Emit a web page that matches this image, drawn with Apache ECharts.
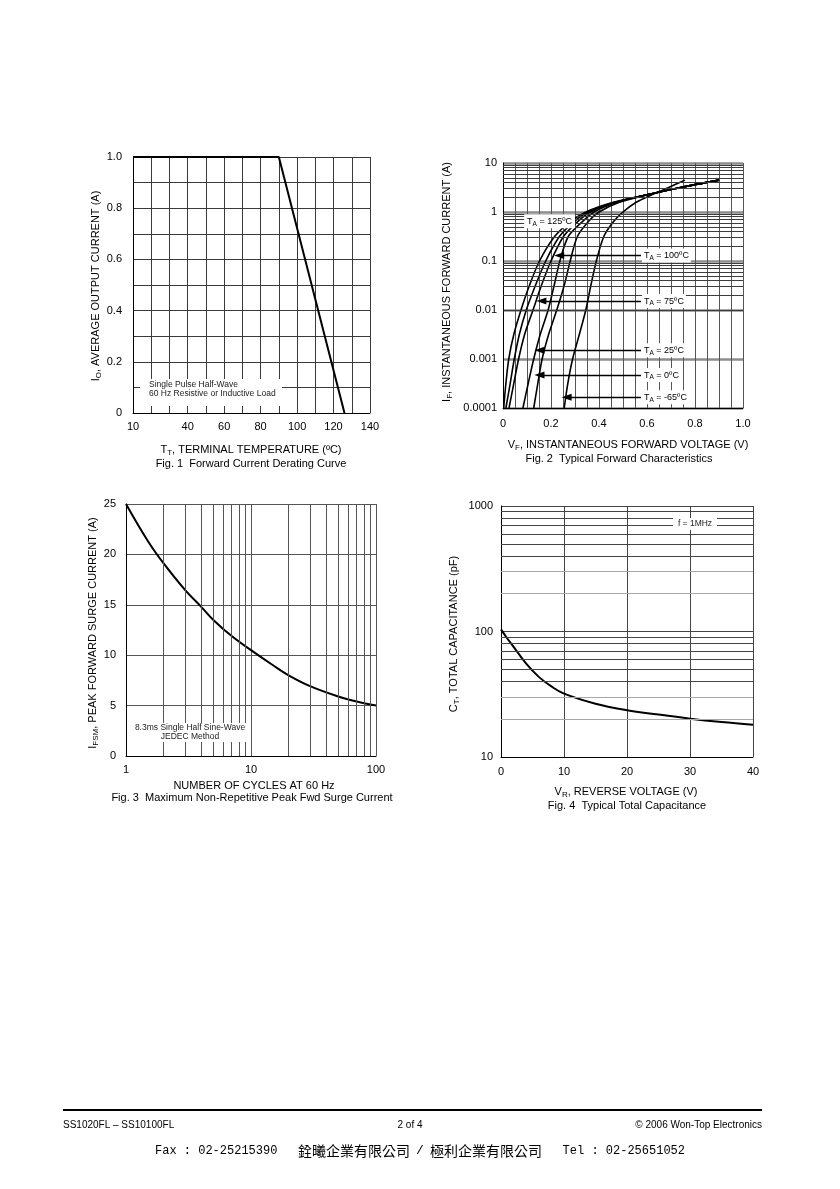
<!DOCTYPE html>
<html><head><meta charset="utf-8">
<script src="https://cdn.jsdelivr.net/npm/echarts@6/dist/echarts.min.js"></script>
<style>html,body{margin:0;padding:0;background:#fff;}#c{width:840px;height:1189px;}</style>
</head><body><div id="c"></div>
<script>
// ---------------- DATA ----------------
// Fig. 1  Forward Current Derating Curve
const fig1Temp = [10, 90, 126];
const fig1Current = [1.0, 1.0, 0.0];
const fig1XLabels = [10, 40, 60, 80, 100, 120, 140];

// Fig. 2  Typical Forward Characteristics  ([VF (V), IF (A)])
const fig2T125 = [[0.003,1e-4],[0.012,3.16e-4],[0.024,1e-3],[0.045,3.16e-3],[0.075,0.01],[0.11,0.0316],[0.152,0.1],[0.215,0.316],[0.28,0.631],[0.345,1],[0.46,1.58],[0.6,2.24],[0.74,3.16],[0.9,4.47]];
const fig2T100 = [[0.012,1e-4],[0.03,3.16e-4],[0.047,1e-3],[0.068,3.16e-3],[0.097,0.01],[0.135,0.0316],[0.178,0.1],[0.235,0.316],[0.295,0.631],[0.355,1],[0.465,1.58],[0.6,2.24],[0.74,3.16],[0.9,4.47]];
const fig2T75 = [[0.025,1e-4],[0.045,3.16e-4],[0.065,1e-3],[0.09,3.16e-3],[0.125,0.01],[0.16,0.0316],[0.2,0.1],[0.252,0.316],[0.31,0.631],[0.365,1],[0.47,1.58],[0.6,2.24],[0.74,3.16],[0.9,4.47]];
const fig2T25 = [[0.083,1e-4],[0.105,3.16e-4],[0.128,1e-3],[0.155,3.16e-3],[0.188,0.01],[0.213,0.0316],[0.237,0.1],[0.272,0.316],[0.33,0.631],[0.38,1],[0.475,1.58],[0.6,2.24],[0.74,3.16],[0.9,4.47]];
const fig2T0 = [[0.128,1e-4],[0.145,3.16e-4],[0.163,1e-3],[0.19,3.16e-3],[0.224,0.01],[0.255,0.0316],[0.28,0.1],[0.31,0.316],[0.355,0.631],[0.4,1],[0.485,1.58],[0.6,2.24],[0.74,3.16],[0.9,4.47]];
const fig2Tm65 = [[0.255,1e-4],[0.27,3.16e-4],[0.29,1e-3],[0.318,3.16e-3],[0.345,0.01],[0.366,0.0316],[0.389,0.1],[0.42,0.316],[0.46,0.631],[0.5,1],[0.555,1.58],[0.62,2.24],[0.69,3.16],[0.758,4.47]];
const fig2Series = [fig2T125, fig2T100, fig2T75, fig2T25, fig2T0, fig2Tm65];
const fig2YLabels = ['0.0001', '0.001', '0.01', '0.1', '1', '10'];
// annotation labels: temperature, arrow tip voltage, current level
const fig2NoteTemps = ['100', '75', '25', '0', '-65'];
const fig2NoteTipV = [0.234, 0.16, 0.152, 0.152, 0.265];
const fig2NoteCurrent = [0.129, 0.0152, 0.0015, 0.00047, 0.000166];

// Fig. 3  Maximum Non-Repetitive Peak Fwd Surge Current
const fig3Cycles = [1, 1.5, 2, 3, 4, 5, 7, 10, 15, 20, 30, 50, 70, 100];
const fig3Current = [25, 21.3, 19.1, 16.4, 14.8, 13.5, 11.9, 10.5, 9.0, 8.0, 6.9, 5.9, 5.4, 5.0];

// Fig. 4  Typical Total Capacitance
const fig4Vr = [0, 1, 2, 4, 6, 8, 10, 15, 20, 25, 30, 35, 40];
const fig4Cap = [104, 88, 75.5, 55.5, 43.5, 36.5, 32, 26.6, 23.6, 21.8, 20.2, 19, 18.1];

// ---------------- CHART ----------------
const FONT = '"Liberation Sans", Arial, Helvetica, sans-serif';
const chart = echarts.init(document.getElementById('c'), null, {renderer: 'canvas'});

const logMinor = (lo, hi) => { const out = []; for (let e = lo; e < hi; e++) for (let d = 2; d <= 9; d++) out.push(d * Math.pow(10, e)); return out; };

function gridLineSeries(xi, key, values, colorFn, width) {
  return {type: 'line', xAxisIndex: xi, yAxisIndex: xi, data: [], silent: true, z: 1,
    markLine: {silent: true, symbol: ['none', 'none'], label: {show: false}, animation: false,
      lineStyle: {width: width, type: 'solid'},
      emphasis: {disabled: true},
      data: values.map(v => ({[key]: v, lineStyle: {color: colorFn(v), width: width, type: 'solid'}}))}};
}

const sub = {fontSize: 8, fontFamily: FONT, color: '#000', padding: [6, 0, 0, 0]};
const main = {fontSize: 11, fontFamily: FONT, color: '#000'};
const richT = {m: main, s: sub};
const richNote = {m: {fontSize: 9, fontFamily: FONT, color: '#000'}, s: {fontSize: 6.5, fontFamily: FONT, color: '#000', padding: [5, 0, 0, 0]}};

function axisBase(gi, extra) {
  return Object.assign({gridIndex: gi,
    axisLine: {show: true, onZero: false, lineStyle: {color: '#000', width: 1}},
    axisTick: {show: false},
    axisLabel: {fontFamily: FONT, fontSize: 11, color: '#000'},
  }, extra);
}

const curveStyle = w => ({color: '#000', width: w});
const lead = v => Math.round(v / Math.pow(10, Math.floor(Math.log10(v) + 1e-9)));

const option = {
  animation: false,
  backgroundColor: '#fff',
  grid: [
    {left: 133, top: 157, width: 237, height: 256},
    {left: 503, top: 163, width: 240, height: 245},
    {left: 126, top: 504, width: 250, height: 252},
    {left: 501, top: 506, width: 252, height: 251}
  ],
  xAxis: [
    axisBase(0, {type: 'value', min: 10, max: 140, interval: 10,
      axisLabel: {fontFamily: FONT, fontSize: 11, color: '#000', margin: 8,
        formatter: v => fig1XLabels.indexOf(Math.round(v)) >= 0 ? String(Math.round(v)) : ''},
      splitLine: {show: true, lineStyle: {color: '#3a3a3a', width: 1}}}),
    axisBase(1, {type: 'value', min: 0, max: 1, interval: 0.05,
      axisLabel: {fontFamily: FONT, fontSize: 11, color: '#000', margin: 10,
        formatter: v => { const r = Math.round(v * 20); if (r % 4) return ''; return r === 0 ? '0' : (r / 20).toFixed(1); }},
      splitLine: {show: true, lineStyle: {color: '#555', width: 1}}}),
    axisBase(2, {type: 'log', logBase: 10, min: 1, max: 100,
      axisLabel: {fontFamily: FONT, fontSize: 11, color: '#000', margin: 8, formatter: v => String(Math.round(v))},
      splitLine: {show: true, lineStyle: {color: '#555', width: 1}}}),
    axisBase(3, {type: 'value', min: 0, max: 40, interval: 10,
      axisLabel: {fontFamily: FONT, fontSize: 11, color: '#000', margin: 9},
      splitLine: {show: true, lineStyle: {color: '#444', width: 1}}})
  ],
  yAxis: [
    axisBase(0, {type: 'value', min: 0, max: 1, interval: 0.1,
      axisLabel: {fontFamily: FONT, fontSize: 11, color: '#000', margin: 11,
        formatter: v => { const r = Math.round(v * 10); if (r % 2) return ''; return r === 0 ? '0' : (r / 10).toFixed(1); }},
      splitLine: {show: true, lineStyle: {color: '#3a3a3a', width: 1}}}),
    axisBase(1, {type: 'log', logBase: 10, min: 1e-4, max: 10,
      axisLabel: {fontFamily: FONT, fontSize: 11, color: '#000', margin: 6,
        formatter: v => fig2YLabels[Math.round(Math.log10(v)) + 4]},
      splitLine: {show: true, lineStyle: {color: '#8c8c8c', width: 2.5}}}),
    axisBase(2, {type: 'value', min: 0, max: 25, interval: 5,
      axisLabel: {fontFamily: FONT, fontSize: 11, color: '#000', margin: 10},
      splitLine: {show: true, lineStyle: {color: '#555', width: 1}}}),
    axisBase(3, {type: 'log', logBase: 10, min: 10, max: 1000,
      axisLabel: {fontFamily: FONT, fontSize: 11, color: '#000', margin: 8, formatter: v => String(Math.round(v))},
      splitLine: {show: true, lineStyle: {color: '#444', width: 1}}})
  ],
  series: [
    // minor grid lines for log axes
    gridLineSeries(1, 'yAxis', logMinor(-4, 1), () => '#3c3c3c', 1),
    gridLineSeries(2, 'xAxis', logMinor(0, 2), () => '#555', 1),
    gridLineSeries(3, 'yAxis', logMinor(1, 3), v => (lead(v) <= 3 ? '#a8a8a8' : '#444'), 1),
    // Fig 1
    {type: 'line', xAxisIndex: 0, yAxisIndex: 0, z: 3, symbol: 'none',
      data: fig1Temp.map((t, i) => [t, fig1Current[i]]), lineStyle: curveStyle(2)},
    // Fig 2 curves
    ...fig2Series.map(d => ({type: 'line', xAxisIndex: 1, yAxisIndex: 1, z: 3, symbol: 'none', smooth: 0.3,
      data: d, lineStyle: curveStyle(1.6)})),
    // Fig 2 annotations
    {type: 'line', xAxisIndex: 1, yAxisIndex: 1, data: [], z: 4, silent: true,
      markLine: {silent: true, animation: false, symbol: ['triangle', 'none'], symbolSize: [7, 10],
        lineStyle: {color: '#000', width: 1.3, type: 'solid'},
        emphasis: {disabled: true},
        label: {show: true, position: 'end', distance: 1, backgroundColor: '#fff', padding: [1, 2, 1, 2], rich: richNote},
        data: fig2NoteTemps.map((t, i) => [
          {coord: [fig2NoteTipV[i], fig2NoteCurrent[i]]},
          {coord: [0.575, fig2NoteCurrent[i]], label: {formatter: '{m|T}{s|A}{m| = ' + t + 'ºC}'}}
        ])},
      markPoint: {silent: true, animation: false, symbol: 'rect', symbolSize: 1, itemStyle: {color: 'rgba(0,0,0,0)'},
        label: {show: true, position: 'inside', backgroundColor: '#fff', padding: [1, 3, 1, 3],
          formatter: '{m|T}{s|A}{m| = 125ºC}', rich: richNote},
        data: [{coord: [0.194, 0.645]}]}},
    // Fig 3
    {type: 'line', xAxisIndex: 2, yAxisIndex: 2, z: 3, symbol: 'none', smooth: 0.4,
      data: fig3Cycles.map((n, i) => [n, fig3Current[i]]), lineStyle: curveStyle(2)},
    // Fig 4
    {type: 'line', xAxisIndex: 3, yAxisIndex: 3, z: 3, symbol: 'none', smooth: 0.4,
      data: fig4Vr.map((v, i) => [v, fig4Cap[i]]), lineStyle: curveStyle(2)}
  ],
  graphic: [
    // Fig 1 texts
    {type: 'text', x: 96, y: 286, rotation: Math.PI / 2, z: 20,
      style: {text: '{m|I}{s|O}{m|, AVERAGE OUTPUT CURRENT (A)}', rich: richT, align: 'center', verticalAlign: 'middle'}},
    {type: 'text', x: 251, y: 450, z: 20,
      style: {text: '{m|T}{s|T}{m|, TERMINAL TEMPERATURE (ºC)}', rich: richT, align: 'center', verticalAlign: 'middle'}},
    {type: 'text', x: 251, y: 464, z: 20,
      style: {text: 'Fig. 1  Forward Current Derating Curve', font: '11px ' + FONT, fill: '#000', align: 'center', verticalAlign: 'middle'}},
    {type: 'rect', shape: {x: 140, y: 379, width: 142, height: 27}, style: {fill: '#fff'}, z: 10},
    {type: 'text', x: 149, y: 385, z: 20,
      style: {text: 'Single Pulse Half-Wave', font: '8.5px ' + FONT, fill: '#222', align: 'left', verticalAlign: 'middle'}},
    {type: 'text', x: 149, y: 394, z: 20,
      style: {text: '60 Hz Resistive or Inductive Load', font: '8.5px ' + FONT, fill: '#222', align: 'left', verticalAlign: 'middle'}},
    // Fig 2 texts
    {type: 'text', x: 447, y: 282, rotation: Math.PI / 2, z: 20,
      style: {text: '{m|I}{s|F}{m|, INSTANTANEOUS FORWARD CURRENT (A)}', rich: richT, align: 'center', verticalAlign: 'middle'}},
    {type: 'text', x: 628, y: 445, z: 20,
      style: {text: '{m|V}{s|F}{m|, INSTANTANEOUS FORWARD VOLTAGE (V)}', rich: richT, align: 'center', verticalAlign: 'middle'}},
    {type: 'text', x: 619, y: 459, z: 20,
      style: {text: 'Fig. 2  Typical Forward Characteristics', font: '11px ' + FONT, fill: '#000', align: 'center', verticalAlign: 'middle'}},
    // Fig 3 texts
    {type: 'text', x: 93, y: 633, rotation: Math.PI / 2, z: 20,
      style: {text: '{m|I}{s|FSM}{m|, PEAK FORWARD SURGE CURRENT (A)}', rich: richT, align: 'center', verticalAlign: 'middle'}},
    {type: 'text', x: 254, y: 786, z: 20,
      style: {text: 'NUMBER OF CYCLES AT 60 Hz', font: '11px ' + FONT, fill: '#000', align: 'center', verticalAlign: 'middle'}},
    {type: 'text', x: 252, y: 798, z: 20,
      style: {text: 'Fig. 3  Maximum Non-Repetitive Peak Fwd Surge Current', font: '11px ' + FONT, fill: '#000', align: 'center', verticalAlign: 'middle'}},
    {type: 'rect', shape: {x: 131, y: 723, width: 117, height: 19}, style: {fill: '#fff'}, z: 10},
    {type: 'text', x: 190, y: 728, z: 20,
      style: {text: '8.3ms Single Half Sine-Wave', font: '8.5px ' + FONT, fill: '#222', align: 'center', verticalAlign: 'middle'}},
    {type: 'text', x: 190, y: 737, z: 20,
      style: {text: 'JEDEC Method', font: '8.5px ' + FONT, fill: '#222', align: 'center', verticalAlign: 'middle'}},
    // Fig 4 texts
    {type: 'text', x: 454, y: 634, rotation: Math.PI / 2, z: 20,
      style: {text: '{m|C}{s|T}{m|, TOTAL CAPACITANCE (pF)}', rich: richT, align: 'center', verticalAlign: 'middle'}},
    {type: 'text', x: 626, y: 792, z: 20,
      style: {text: '{m|V}{s|R}{m|, REVERSE VOLTAGE (V)}', rich: richT, align: 'center', verticalAlign: 'middle'}},
    {type: 'text', x: 627, y: 806, z: 20,
      style: {text: 'Fig. 4  Typical Total Capacitance', font: '11px ' + FONT, fill: '#000', align: 'center', verticalAlign: 'middle'}},
    {type: 'rect', shape: {x: 673, y: 518, width: 44, height: 12}, style: {fill: '#fff'}, z: 10},
    {type: 'text', x: 695, y: 524, z: 20,
      style: {text: 'f = 1MHz', font: '8.5px ' + FONT, fill: '#222', align: 'center', verticalAlign: 'middle'}},
    // Footer
    {type: 'rect', shape: {x: 63, y: 1109, width: 699, height: 2}, style: {fill: '#000'}, z: 20},
    {type: 'text', x: 63, y: 1125, z: 20,
      style: {text: 'SS1020FL – SS10100FL', font: '10px ' + FONT, fill: '#000', align: 'left', verticalAlign: 'middle'}},
    {type: 'text', x: 410, y: 1125, z: 20,
      style: {text: '2 of 4', font: '10px ' + FONT, fill: '#000', align: 'center', verticalAlign: 'middle'}},
    {type: 'text', x: 762, y: 1125, z: 20,
      style: {text: '© 2006 Won-Top Electronics', font: '10px ' + FONT, fill: '#000', align: 'right', verticalAlign: 'middle'}},
    {type: 'text', x: 155, y: 1151, z: 20,
      style: {text: 'Fax : 02-25215390', font: '12px "Liberation Mono", "DejaVu Sans Mono", monospace', fill: '#000', align: 'left', verticalAlign: 'middle'}},
    {type: 'text', x: 298, y: 1151, z: 20,
      style: {text: '銓曦企業有限公司', font: '14px "Noto Sans CJK TC", sans-serif', fill: '#000', align: 'left', verticalAlign: 'middle'}},
    {type: 'text', x: 420, y: 1151, z: 20,
      style: {text: '/', font: '13px "Liberation Mono", monospace', fill: '#000', align: 'center', verticalAlign: 'middle'}},
    {type: 'text', x: 430, y: 1151, z: 20,
      style: {text: '極利企業有限公司', font: '14px "Noto Sans CJK TC", sans-serif', fill: '#000', align: 'left', verticalAlign: 'middle'}},
    {type: 'text', x: 685, y: 1151, z: 20,
      style: {text: 'Tel : 02-25651052', font: '12px "Liberation Mono", "DejaVu Sans Mono", monospace', fill: '#000', align: 'right', verticalAlign: 'middle'}}
  ]
};
chart.setOption(option);
</script></body></html>
